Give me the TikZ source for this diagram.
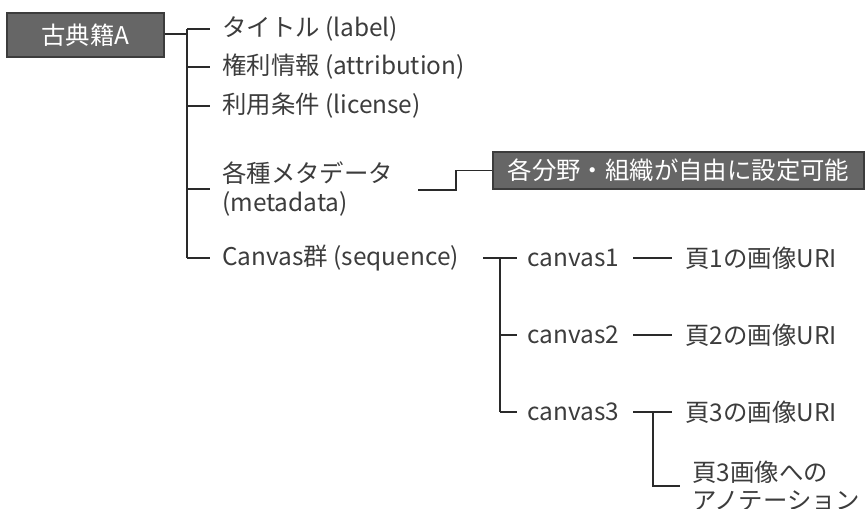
\documentclass[tikz,border=0pt]{standalone}
\usepackage{fontspec}
\setmainfont{Noto Sans CJK JP}
\definecolor{boxfill}{HTML}{666666}
\definecolor{boxline}{HTML}{3C3C3C}
\definecolor{txt}{HTML}{3C3C3C}
\definecolor{ln}{HTML}{2A2A2A}
\begin{document}
\begin{tikzpicture}[x=0.75pt,y=-0.75pt,
  every node/.style={font=\fontsize{18.3}{21.5}\selectfont, text=txt},
  graybox/.style={draw=boxline, line width=1pt, fill=boxfill, text=white, inner sep=0pt},
  leaf/.style={anchor=west, inner ysep=0pt, inner xsep=9pt, align=left},
  conn/.style={draw=ln, line width=1.4pt}]
\useasboundingbox (0,0) rectangle (866,508);
% root
\node[graybox, minimum width=117.75pt, minimum height=33pt] (root) at (85.5,35) {古典籍A};
% first level
\coordinate (j0) at (187,34);
\node[leaf] (t1) at (210,29) {タイトル (label)};
\node[leaf] (t2) at (210,67) {権利情報 (attribution)};
\node[leaf] (t3) at (210,106) {利用条件 (license)};
\node[leaf] (t4) at (210,189) {各種メタデータ\\(metadata)};
\node[leaf] (t5) at (210,258) {Canvas群 (sequence)};
\draw[conn] (root.east |- j0) -- (j0);
\draw[conn] (t1.west -| j0) -- (t5.west -| j0);
\foreach \n in {t1,t2,t3,t4,t5} \draw[conn] (\n.west -| j0) -- (\n.west);
% metadata box
\node[graybox, minimum width=278.25pt, minimum height=27.75pt] (free) at (678.5,170.5) {各分野・組織が自由に設定可能};
\coordinate (m0) at (418,190);
\coordinate (m1) at (456,190);
\draw[conn] (m0) -- (m1) |- (free.west);
% canvases
\coordinate (s0) at (483,258);
\coordinate (s1) at (500,258);
\node[leaf, inner xsep=7.5pt] (c1) at (517,258) {canvas1};
\node[leaf, inner xsep=7.5pt] (c2) at (517,335) {canvas2};
\node[leaf, inner xsep=7.5pt] (c3) at (517,412) {canvas3};
\draw[conn] (s0) -- (s1);
\draw[conn] (c1.west -| s1) -- (c3.west -| s1);
\foreach \n in {c1,c2,c3} \draw[conn] (\n.west -| s1) -- (\n.west);
% pages
\node[leaf, inner xsep=9.75pt] (p1) at (672,258) {頁1の画像URI};
\node[leaf, inner xsep=9.75pt] (p2) at (672,335) {頁2の画像URI};
\node[leaf, inner xsep=9.75pt] (p3) at (672,412) {頁3の画像URI};
\node[leaf] (a3) at (680,486) {頁3画像への\\アノテーション};
\coordinate (k1) at (633,258);
\coordinate (k2) at (633,335);
\coordinate (k3) at (633,412);
\coordinate (kv) at (653,412);
\draw[conn] (k1) -- (p1.west);
\draw[conn] (k2) -- (p2.west);
\draw[conn] (k3) -- (p3.west);
\draw[conn] (kv) |- (a3.west);
\end{tikzpicture}
\end{document}
